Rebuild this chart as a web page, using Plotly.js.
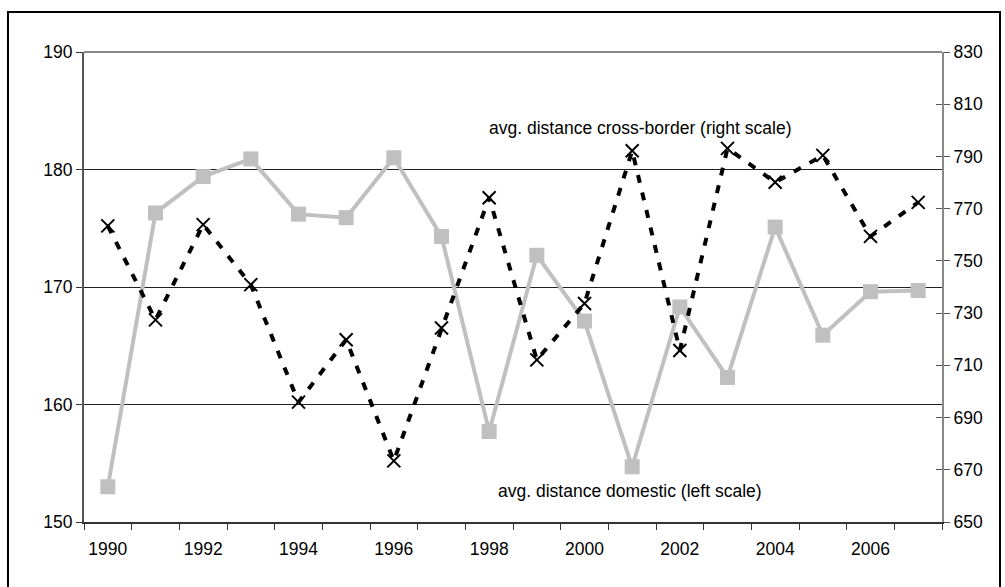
<!DOCTYPE html>
<html>
<head>
<meta charset="utf-8">
<script src="https://cdn.plot.ly/plotly-3.0.1.min.js"></script>
<style>html,body{margin:0;padding:0;background:#fff;}#chart{width:1005px;height:587px;}</style>
</head>
<body>
<div id="chart"></div>
<script>
const years = ["1990","1991","1992","1993","1994","1995","1996","1997","1998","1999","2000","2001","2002","2003","2004","2005","2006","2007"];
const yearLabels = ["1990","","1992","","1994","","1996","","1998","","2000","","2002","","2004","","2006",""];
const domestic = [153.0,176.3,179.4,180.9,176.2,175.9,181.0,174.3,157.7,172.7,167.1,154.7,168.3,162.3,175.1,165.9,169.6,169.7];
const crossBorder = [763.4,727.4,763.9,740.9,695.9,719.8,673.4,724.3,774.2,712.1,733.7,792.2,715.7,793.1,780.1,790.4,759.4,772.4];
const leftTicks = [150,160,170,180,190];
const rightTicks = [650,670,690,710,730,750,770,790,810,830];

const font = {family: "Liberation Sans, Arial, sans-serif", size: 17.5, color: "#000"};

const traces = [
  {
    x: years, y: domestic, type: "scatter", mode: "lines+markers",
    name: "avg. distance domestic (left scale)",
    line: {color: "#c0c0c0", width: 4},
    marker: {symbol: "square", size: 15, color: "#c0c0c0"},
    xaxis: "x", yaxis: "y", cliponaxis: false
  },
  {
    x: years, y: crossBorder, type: "scatter", mode: "lines+markers",
    name: "avg. distance cross-border (right scale)",
    line: {color: "#000", width: 4, dash: "8px,10px"},
    marker: {symbol: "x-thin-open", size: 13, color: "#000", line: {color: "#000", width: 2}},
    xaxis: "x", yaxis: "y2", cliponaxis: false
  },
  {x: years, y: crossBorder, type: "scatter", mode: "none", xaxis: "x", yaxis: "y3", hoverinfo: "skip", showlegend: false}
];

const layout = {
  width: 1005, height: 587,
  margin: {l: 84, r: 63, t: 52, b: 65},
  paper_bgcolor: "#fff", plot_bgcolor: "#fff",
  showlegend: false,
  font: font,
  xaxis: {
    type: "category", range: [-0.5, years.length - 0.5], autorange: false,
    tickmode: "array", tickvals: years, ticktext: yearLabels,
    tickson: "boundaries", tickangle: 0,
    ticks: "outside", ticklen: 6, tickwidth: 1, tickcolor: "#333",
    ticklabelstandoff: 10,
    showline: true, linecolor: "#333", linewidth: 2,
    showgrid: false, zeroline: false,
    tickfont: font, fixedrange: true
  },
  yaxis: {
    range: [150, 190], tickmode: "array", tickvals: leftTicks,
    ticks: "outside", ticklen: 6, tickcolor: "#333",
    showline: true, linecolor: "#555", linewidth: 2,
    showgrid: true, gridcolor: "#222", gridwidth: 1,
    zeroline: false, tickfont: font
  },
  yaxis2: {
    range: [650, 830], tickmode: "array", tickvals: rightTicks,
    overlaying: "y", side: "right",
    ticks: "outside", ticklen: 6, tickcolor: "#555",
    showline: true, linecolor: "#888", linewidth: 2,
    showgrid: false, zeroline: false, tickfont: font
  },
  yaxis3: {
    range: [650, 830], tickmode: "array", tickvals: rightTicks,
    overlaying: "y", side: "right", anchor: "x",
    ticks: "inside", ticklen: 6, tickcolor: "#555",
    showticklabels: false, showline: false, showgrid: false, zeroline: false
  },
  shapes: [
    {type: "line", xref: "paper", yref: "paper", x0: 0, x1: 1, y0: 1, y1: 1,
     line: {color: "#888", width: 2}},
    {type: "rect", xref: "paper", yref: "paper", x0: -0.0886, x1: 1.0676, y0: -0.3, y1: 1.0851,
     line: {color: "#000", width: 2}, fillcolor: "rgba(0,0,0,0)", layer: "below"}
  ],
  annotations: [
    {text: "avg. distance cross-border (right scale)", xref: "paper", yref: "paper",
     x: 0.648, y: 0.838, showarrow: false, font: font, xanchor: "center", yanchor: "middle"},
    {text: "avg. distance domestic (left scale)", xref: "paper", yref: "paper",
     x: 0.636, y: 0.066, showarrow: false, font: font, xanchor: "center", yanchor: "middle"}
  ]
};

Plotly.newPlot("chart", traces, layout, {displayModeBar: false, staticPlot: true});
</script>
</body>
</html>
